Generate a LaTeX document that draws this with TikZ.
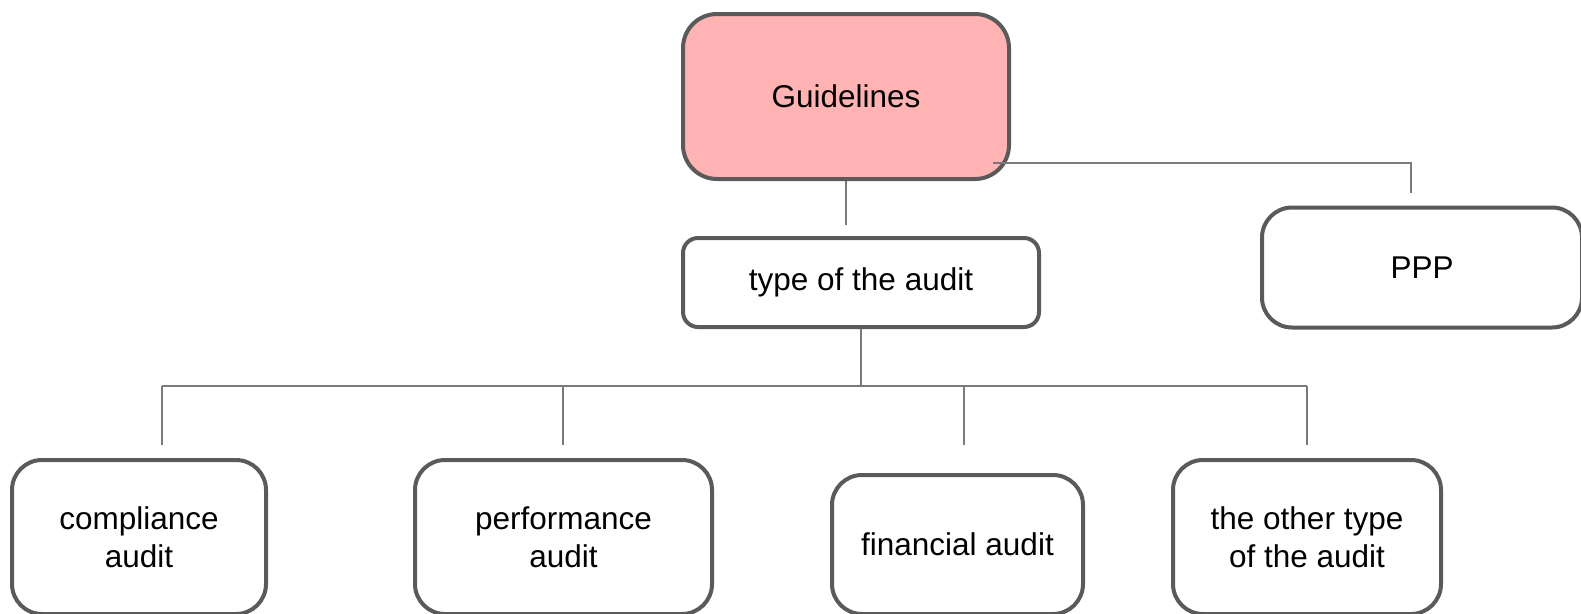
\documentclass[tikz,border=0pt]{standalone}
\usepackage{fontspec}
\setmainfont{Liberation Sans}
\definecolor{boxline}{HTML}{5A5A5A}
\definecolor{conline}{HTML}{7A7A7A}
\definecolor{pinkfill}{HTML}{FFB3B3}
\begin{document}
\begin{tikzpicture}[x=1pt,y=-1pt,
  box/.style={draw=boxline,line width=4pt,fill=white,align=center,inner sep=0pt,
    font=\fontsize{31.5}{38}\selectfont,text=black},
  con/.style={draw=conline,line width=1.8pt}]
\useasboundingbox (0,0) rectangle (1581,613);
\clip (0,0) rectangle (1581,613);
% boxes
\node[box,fill=pinkfill,rounded corners=34pt,minimum width=326pt,minimum height=165pt] (G) at (846,96.5) {Guidelines};
\node[box,rounded corners=15pt,minimum width=356pt,minimum height=89pt] (T) at (861,282.5) {type of the audit};
\node[box,rounded corners=30pt,minimum width=320pt,minimum height=120pt] (P) at (1422,267.5) {PPP};
\node[box,rounded corners=30pt,minimum width=254pt,minimum height=154pt] (C1) at (139,537) {compliance\\audit};
\node[box,rounded corners=30pt,minimum width=297pt,minimum height=154pt] (C2) at (563.5,537) {performance\\audit};
\node[box,rounded corners=30pt,minimum width=251pt,minimum height=139pt] (C3) at (957.5,544.5) {financial audit};
\node[box,rounded corners=30pt,minimum width=268pt,minimum height=154pt] (C4) at (1307,537) {the other type\\of the audit};
% connectors
\draw[con,shorten >=11pt] (G.south) -- (G.south |- T.north);
\coordinate (gp) at (993,163);
\coordinate (pp) at (1411,193);
\draw[con] (gp) -| (pp);
\coordinate (bus) at (861,386);
\coordinate (d1) at (162,445);
\coordinate (d2) at (563,445);
\coordinate (d3) at (964,445);
\coordinate (d4) at (1307,445);
\draw[con] (T.south) -- (bus);
\draw[con] (bus -| d1) -- (bus -| d4);
\draw[con] (bus -| d1) -- (d1);
\draw[con] (bus -| d2) -- (d2);
\draw[con] (bus -| d3) -- (d3);
\draw[con] (bus -| d4) -- (d4);
\end{tikzpicture}
\end{document}
